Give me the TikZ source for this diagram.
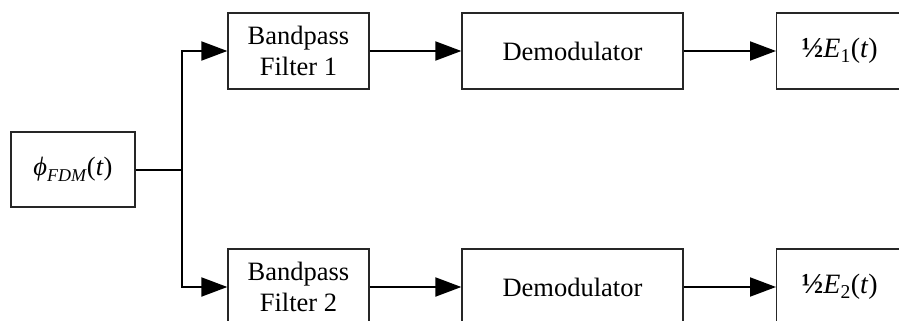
\documentclass[tikz,border=0pt]{standalone}
\usepackage{fontspec}
\setmainfont{Liberation Serif}
\usetikzlibrary{arrows.meta}
\newcommand{\lowsub}[1]{\raisebox{-0.25em}{\fontsize{18}{18}\selectfont #1}}
\newcommand{\halfof}{{\fontsize{29}{29}\selectfont\textbf{½}}}
\begin{document}
\begin{tikzpicture}[x=1pt,y=-1pt,
  blk/.style={draw=black!85, line width=1.3pt, inner sep=0pt,
    minimum height=76pt, align=center,
    font=\fontsize{26.5}{31}\selectfont},
  outblk/.style={blk, anchor=west, text width=120pt, inner xsep=25pt, align=left,
    font=\fontsize{28}{31}\selectfont},
  wire/.style={line width=2pt, -{Triangle[length=26pt,width=19pt]}},
  plainwire/.style={line width=2pt}]
  \useasboundingbox (0,0) rectangle (899,321);
  \clip (0,0) rectangle (899,321);

  % source block
  \node[blk, minimum width=124pt, minimum height=75pt] (in) at (73,169.5)
    {\textit{ϕ}\lowsub{\textit{FDM}}(\textit{t})};

  % upper branch
  \node[blk, minimum width=141pt] (bpf1) at (298.5,51) {Bandpass\\Filter 1};
  \node[blk, minimum width=221pt] (dem1) at (572.5,51) {Demodulator};
  \node[outblk] (out1) at (776,51)
    {\halfof\textit{E}\textsubscript{1}(\textit{t})};

  % lower branch
  \node[blk, minimum width=141pt] (bpf2) at (298.5,287) {Bandpass\\Filter 2};
  \node[blk, minimum width=221pt] (dem2) at (572.5,287) {Demodulator};
  \node[outblk] (out2) at (776,287)
    {\halfof\textit{E}\textsubscript{2}(\textit{t})};

  % splitting point
  \coordinate (split) at (182,169.5);

  \draw[plainwire] (in.east) -- (split);
  \draw[wire] (split) |- (bpf1.west);
  \draw[wire] (split) |- (bpf2.west);
  \draw[wire] (bpf1) -- (dem1);
  \draw[wire] (dem1) -- (out1);
  \draw[wire] (bpf2) -- (dem2);
  \draw[wire] (dem2) -- (out2);
\end{tikzpicture}
\end{document}
